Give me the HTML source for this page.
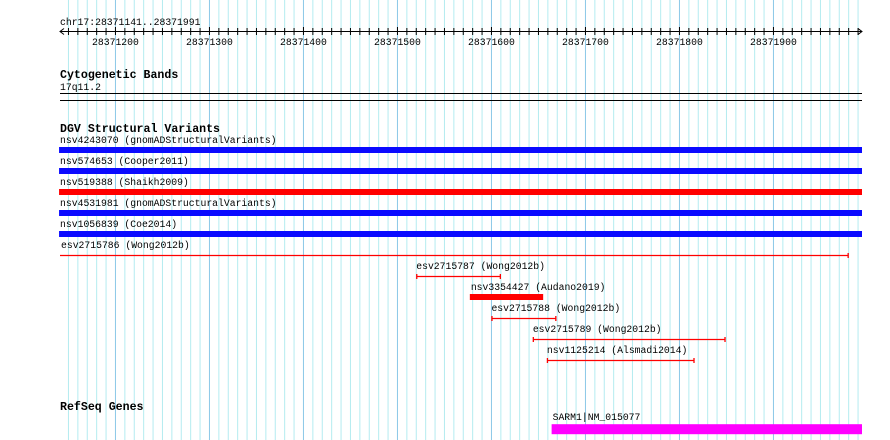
<!DOCTYPE html>
<html><head><meta charset="utf-8"><style>
body{margin:0;background:#fff}
svg{display:block}
text{font-family:"Liberation Mono","DejaVu Sans Mono",monospace;font-size:9.75px;fill:#000}
.t{font-weight:bold;font-size:11.6px}
</style></head><body>
<svg id="c" width="890" height="440" xmlns="http://www.w3.org/2000/svg">
<g id="grid"></g>
<g id="ruler"></g>
<text x="60" y="25">chr17:28371141..28371991</text>
<text class="t" x="60" y="78">Cytogenetic Bands</text>
<text x="60" y="90">17q11.2</text>
<line x1="60" y1="93.5" x2="862" y2="93.5" stroke="#000"/>
<line x1="60" y1="100.5" x2="862" y2="100.5" stroke="#000"/>
<text class="t" x="60" y="132">DGV Structural Variants</text>
<text class="t" x="60" y="410">RefSeq Genes</text>
<g id="feats"></g>
</svg>
<script>
const regionStart = 28371141, regionEnd = 28371991;
const tickLabels = [28371200, 28371300, 28371400, 28371500, 28371600, 28371700, 28371800, 28371900];
const featNames = ["nsv4243070 (gnomADStructuralVariants)","nsv574653 (Cooper2011)","nsv519388 (Shaikh2009)","nsv4531981 (gnomADStructuralVariants)","nsv1056839 (Coe2014)","esv2715786 (Wong2012b)","esv2715787 (Wong2012b)","nsv3354427 (Audano2019)","esv2715788 (Wong2012b)","esv2715789 (Wong2012b)","nsv1125214 (Alsmadi2014)","SARM1|NM_015077"];
const featStarts = [28371140,28371140,28371140,28371140,28371140,28371141,28371520,28371577,28371600,28371644,28371659,28371664];
const featEnds = [28371995,28371995,28371995,28371995,28371995,28371980,28371610,28371655,28371669,28371849,28371816,28371995];
const featKinds = ["blue","blue","red","blue","blue","line","line","red","line","line","line","gene"];
const featRows = [0,1,2,3,4,5,6,7,8,9,10,13.2];
const NS="http://www.w3.org/2000/svg";
const X = bp => 60 + (bp - regionStart) * 0.94;
function mk(tag, parent, attrs){const e=document.createElementNS(NS,tag);for(const k in attrs)e.setAttribute(k,attrs[k]);parent.appendChild(e);return e;}
const grid=document.getElementById('grid'), ruler=document.getElementById('ruler'), feats=document.getElementById('feats');
for(let p=Math.ceil(regionStart/10)*10;p<=regionEnd;p+=10){
  const major=p%100===0;
  const l=mk('line',grid,{x1:X(p),x2:X(p),y1:0,y2:440,stroke:major?'#8cc8e8':'#b4ecf0','stroke-width':1});
  
  
  const t=mk('line',ruler,{x1:X(p),x2:X(p),y1:major?27:28,y2:35,stroke:'#000'});
  
  
}
const rl=mk('line',ruler,{x1:60,x2:862,y1:31.5,y2:31.5,stroke:'#000'});


const ar=mk('path',ruler,{d:'M64 28.5 L60 31.5 L64 34.5 M858 28.5 L862 31.5 L858 34.5',stroke:'#000',fill:'none'});


tickLabels.forEach(v=>{
  const t=mk('text',ruler,{x:X(v),y:45,'text-anchor':'middle'});t.textContent=v;
  
  
});
featNames.forEach((n,i)=>{
  const y=150+featRows[i]*21;
  const x1=Math.max(59,X(featStarts[i])), x2=Math.min(862,X(featEnds[i]));
  const g=mk('g',feats,{});
  
  
  const lb=mk('text',g,{x:x1+(featKinds[i]==='line'&&i>5?-1:0)+1,y:y-7});lb.textContent=n;
  
  
  const k=featKinds[i];
  if(k==='blue'||k==='red'){
    const r=mk('rect',g,{x:x1,y:y-3,width:x2-x1,height:6,fill:k==='blue'?'#0a0aff':'#ff0000'});
    
    
  } else if(k==='gene'){
    const r=mk('rect',g,{x:x1,y:y-3,width:x2-x1,height:10,fill:'#ff00ff'});
    
    
  } else {
    const p=mk('path',g,{d:`M${x1} ${y+0.5} H${x2} M${x1+0.5} ${y-2} V${y+3} M${x2-0.5} ${y-2} V${y+3}`,stroke:'#ff0000','stroke-width':1.3,fill:'none'});
    if(i===5) p.setAttribute('d',`M${x1} ${y+0.5} H${x2} M${x2-0.5} ${y-2} V${y+3}`);
    
    
  }
});
</script>
</body></html>
